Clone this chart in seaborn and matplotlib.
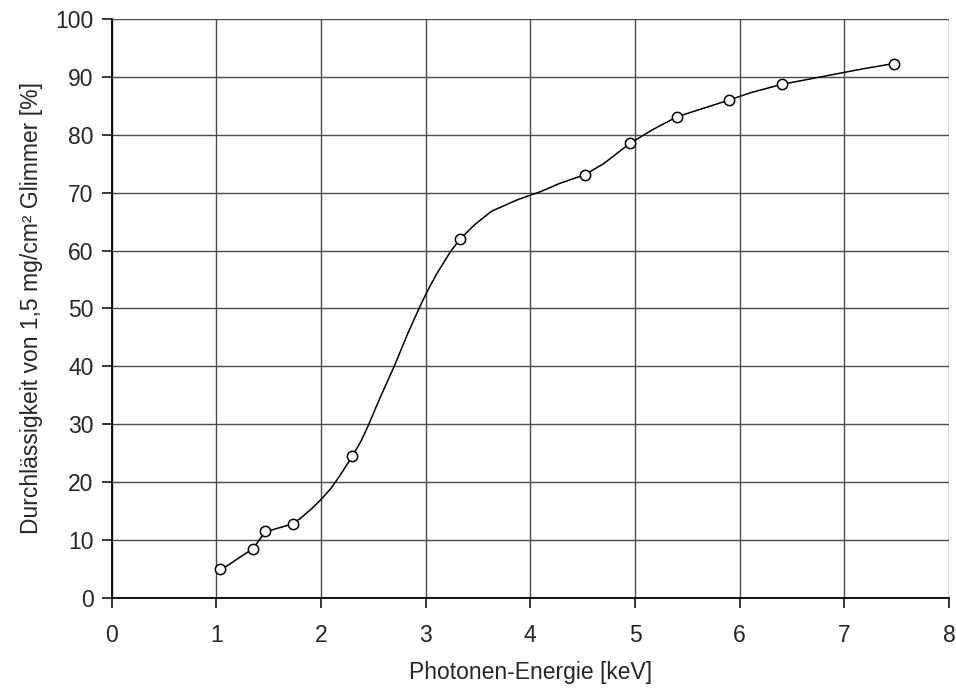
import matplotlib
matplotlib.use("Agg")
import matplotlib.pyplot as plt
import seaborn as sns
import pandas as pd

# Measured points (markers)
energy_pts = [1.04, 1.35, 1.47, 1.73, 2.30, 3.33, 4.52, 4.95, 5.40, 5.90, 6.40, 7.47]
trans_pts = [5.0, 8.5, 11.5, 12.8, 24.5, 62.0, 73.1, 78.5, 83.1, 86.0, 88.7, 92.3]

# Smooth curve through the data
energy_curve = [1.04, 1.10, 1.23, 1.35, 1.47, 1.54, 1.73, 1.80, 1.91, 2.00, 2.09, 2.18,
                2.30, 2.38, 2.45, 2.57, 2.70, 2.83, 2.96, 3.04, 3.11, 3.24, 3.33, 3.47,
                3.63, 3.88, 4.10, 4.28, 4.52, 4.70, 4.95, 5.17, 5.40, 5.64, 5.90, 6.11,
                6.40, 7.18, 7.47]
trans_curve = [5.0, 5.5, 7.1, 8.5, 11.5, 11.8, 12.8, 13.7, 15.4, 17.0, 18.8, 21.1,
               24.5, 27.0, 29.7, 34.8, 40.0, 45.7, 50.9, 53.8, 56.1, 59.9, 62.0, 64.5,
               66.8, 68.8, 70.2, 71.6, 73.1, 75.0, 78.5, 80.9, 83.1, 84.5, 86.0, 87.3,
               88.7, 91.4, 92.3]

x_ticks = [0, 1, 2, 3, 4, 5, 6, 7, 8]
y_ticks = [0, 10, 20, 30, 40, 50, 60, 70, 80, 90, 100]

sns.set_style("white")
plt.rcParams['font.family'] = ['Liberation Sans', 'DejaVu Sans']

df_curve = pd.DataFrame({"E": energy_curve, "T": trans_curve})
df_pts = pd.DataFrame({"E": energy_pts, "T": trans_pts})

fig = plt.figure(figsize=(9.56, 6.88), dpi=100)
ax = fig.add_axes([0.1167, 0.1308, 0.8760, 0.8416])

sns.lineplot(data=df_curve, x="E", y="T", ax=ax, color="black", linewidth=1.1,
             sort=False, estimator=None, zorder=3)
sns.scatterplot(data=df_pts, x="E", y="T", ax=ax, marker="o", s=55,
                facecolor="white", edgecolor="black", linewidth=1.1, zorder=4)

ax.set_xlim(0, 8)
ax.set_ylim(0, 100)
ax.set_xticks(x_ticks)
ax.set_yticks(y_ticks)
ax.grid(True, color="#4a4a4a", linewidth=1.0)
ax.set_axisbelow(True)
for s in ["top", "right"]:
    ax.spines[s].set_visible(False)
for s in ["left", "bottom"]:
    ax.spines[s].set_color("black")
    ax.spines[s].set_linewidth(1.3)
ax.tick_params(axis="both", bottom=True, left=True, direction="out", length=7,
               width=1.1, color="black", labelsize=16.5)
ax.tick_params(axis="x", pad=12)
ax.tick_params(axis="y", pad=6)
ax.set_xlabel("Photonen-Energie [keV]", fontsize=16.5, labelpad=10)
ax.set_ylabel("Durchlässigkeit von 1,5 mg/cm² Glimmer [%]", fontsize=16.5, labelpad=9)

fig.savefig("out.png", dpi=100)
